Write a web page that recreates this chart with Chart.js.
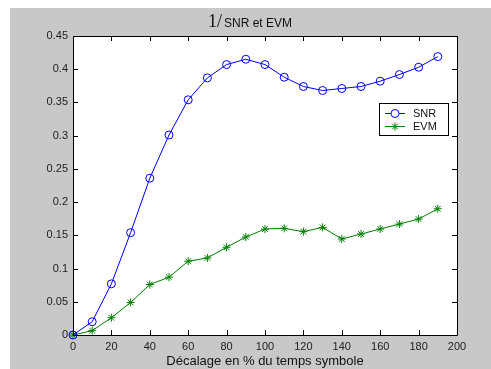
<!DOCTYPE html>
<html>
<head>
<meta charset="utf-8">
<script src="https://cdn.jsdelivr.net/npm/chart.js@4/dist/chart.umd.min.js"></script>
<style>
  html, body { margin: 0; padding: 0; background: #fff; }
  #wrap { position: relative; width: 491px; height: 369px; }
</style>
</head>
<body>
<div id="wrap"><canvas id="chart" width="491" height="369"></canvas></div>
<script>
// Data
const decalage = [0, 10, 20, 30, 40, 50, 60, 70, 80, 90, 100, 110, 120, 130, 140, 150, 160, 170, 180, 190];
const snrValues = [0, 0.020, 0.077, 0.154, 0.236, 0.301, 0.354, 0.387, 0.407, 0.415, 0.407, 0.388, 0.374, 0.368, 0.371, 0.374, 0.382, 0.392, 0.403, 0.419];
const evmValues = [0, 0.0065, 0.026, 0.049, 0.076, 0.087, 0.111, 0.116, 0.132, 0.1475, 0.1595, 0.1605, 0.1555, 0.162, 0.1445, 0.152, 0.1595, 0.167, 0.1745, 0.19];
const xTicks = [0, 20, 40, 60, 80, 100, 120, 140, 160, 180, 200];
const yTicks = [0, 0.05, 0.1, 0.15, 0.2, 0.25, 0.3, 0.35, 0.4, 0.45];

const figGrey = '#c8c8c8';
const sans = '"Liberation Sans", Arial, sans-serif';

// Grey figure background, white axes area
const figureBackground = {
  id: 'figureBackground',
  beforeDraw(chart) {
    const ctx = chart.ctx;
    const a = chart.chartArea;
    ctx.save();
    ctx.fillStyle = '#fff';
    ctx.fillRect(0, 0, chart.width, chart.height);
    ctx.fillStyle = figGrey;
    ctx.fillRect(10, 8, chart.width - 10, chart.height - 8);
    ctx.fillStyle = '#fff';
    ctx.fillRect(a.left, a.top, a.right - a.left, a.bottom - a.top);
    ctx.restore();
  }
};

// Box, inward ticks on all four sides, title and legend (MATLAB look)
const matlabFrame = {
  id: 'matlabFrame',
  afterDraw(chart) {
    const ctx = chart.ctx;
    const a = chart.chartArea;
    const xs = chart.scales.x;
    const ys = chart.scales.y;
    const tl = 5;
    ctx.save();
    ctx.strokeStyle = '#000';
    ctx.lineWidth = 1;
    ctx.beginPath();
    ctx.rect(Math.round(a.left) + 0.5, Math.round(a.top) + 0.5,
      Math.round(a.right - a.left), Math.round(a.bottom - a.top));
    xTicks.forEach(v => {
      const px = Math.round(xs.getPixelForValue(v)) + 0.5;
      ctx.moveTo(px, a.bottom); ctx.lineTo(px, a.bottom - tl);
      ctx.moveTo(px, a.top); ctx.lineTo(px, a.top + tl);
    });
    yTicks.forEach(v => {
      const py = Math.round(ys.getPixelForValue(v)) + 0.5;
      ctx.moveTo(a.left, py); ctx.lineTo(a.left + tl, py);
      ctx.moveTo(a.right, py); ctx.lineTo(a.right - tl, py);
    });
    ctx.stroke();

    // title: "1/" in serif, rest in sans
    ctx.fillStyle = '#111';
    ctx.textBaseline = 'alphabetic';
    ctx.textAlign = 'left';
    ctx.font = '18px "Liberation Serif", "Times New Roman", serif';
    ctx.fillText('1/', 208, 27);
    ctx.font = '12px ' + sans;
    ctx.fillText('SNR et EVM', 224, 27);

    // legend box
    const lx = 379, ly = 103, lw = 69, lh = 32;
    ctx.fillStyle = '#fff';
    ctx.fillRect(lx, ly, lw, lh);
    ctx.strokeStyle = '#000';
    ctx.strokeRect(lx + 0.5, ly + 0.5, lw, lh);
    const rows = [113, 126];
    chart.data.datasets.forEach((ds, i) => {
      const y = rows[i] + 0.5;
      ctx.strokeStyle = ds.borderColor;
      ctx.lineWidth = 1;
      ctx.beginPath();
      ctx.moveTo(385, y); ctx.lineTo(405, y);
      ctx.stroke();
      Chart.helpers.drawPoint(ctx, {
        pointStyle: ds.pointStyle, radius: ds.pointRadius, borderWidth: 1
      }, 395, y);
      ctx.fillStyle = '#111';
      ctx.font = '11px ' + sans;
      ctx.textBaseline = 'middle';
      ctx.fillText(ds.label, 413, y);
    });
    ctx.restore();
  }
};

const ctx = document.getElementById('chart').getContext('2d');
new Chart(ctx, {
  type: 'line',
  data: {
    datasets: [
      {
        label: 'SNR',
        data: decalage.map((x, i) => ({ x: x, y: snrValues[i] })),
        borderColor: '#0000ff',
        backgroundColor: 'rgba(0,0,0,0)',
        pointStyle: 'circle',
        pointRadius: 4,
        pointBorderWidth: 1,
        borderWidth: 1,
        tension: 0
      },
      {
        label: 'EVM',
        data: decalage.map((x, i) => ({ x: x, y: evmValues[i] })),
        borderColor: '#008000',
        backgroundColor: 'rgba(0,0,0,0)',
        pointStyle: 'star',
        pointRadius: 4,
        pointBorderWidth: 1,
        borderWidth: 1,
        tension: 0
      }
    ]
  },
  options: {
    responsive: false,
    animation: false,
    clip: false,
    layout: {
      padding: { left: 0, right: 34, top: 36, bottom: 0 }
    },
    plugins: {
      legend: { display: false },
      title: { display: false },
      tooltip: { enabled: false }
    },
    scales: {
      x: {
        type: 'linear',
        min: 0,
        max: 200,
        afterFit: scale => { scale.height = 34; },
        afterBuildTicks: scale => { scale.ticks = xTicks.map(v => ({ value: v })); },
        grid: { display: false, drawTicks: false },
        border: { display: false },
        ticks: {
          color: '#222',
          padding: 5,
          maxRotation: 0,
          font: { family: sans, size: 11 }
        },
        title: {
          display: true,
          text: 'Décalage en % du temps symbole',
          color: '#111',
          font: { family: sans, size: 13 },
          padding: { top: 0, bottom: 0 }
        }
      },
      y: {
        type: 'linear',
        min: 0,
        max: 0.45,
        afterFit: scale => { scale.width = 73; },
        afterBuildTicks: scale => { scale.ticks = yTicks.map(v => ({ value: v })); },
        grid: { display: false, drawTicks: false },
        border: { display: false },
        ticks: {
          color: '#222',
          padding: 5,
          font: { family: sans, size: 11 },
          callback: v => String(Number(v.toFixed(2)))
        }
      }
    }
  },
  plugins: [figureBackground, matlabFrame]
});
</script>
</body>
</html>
